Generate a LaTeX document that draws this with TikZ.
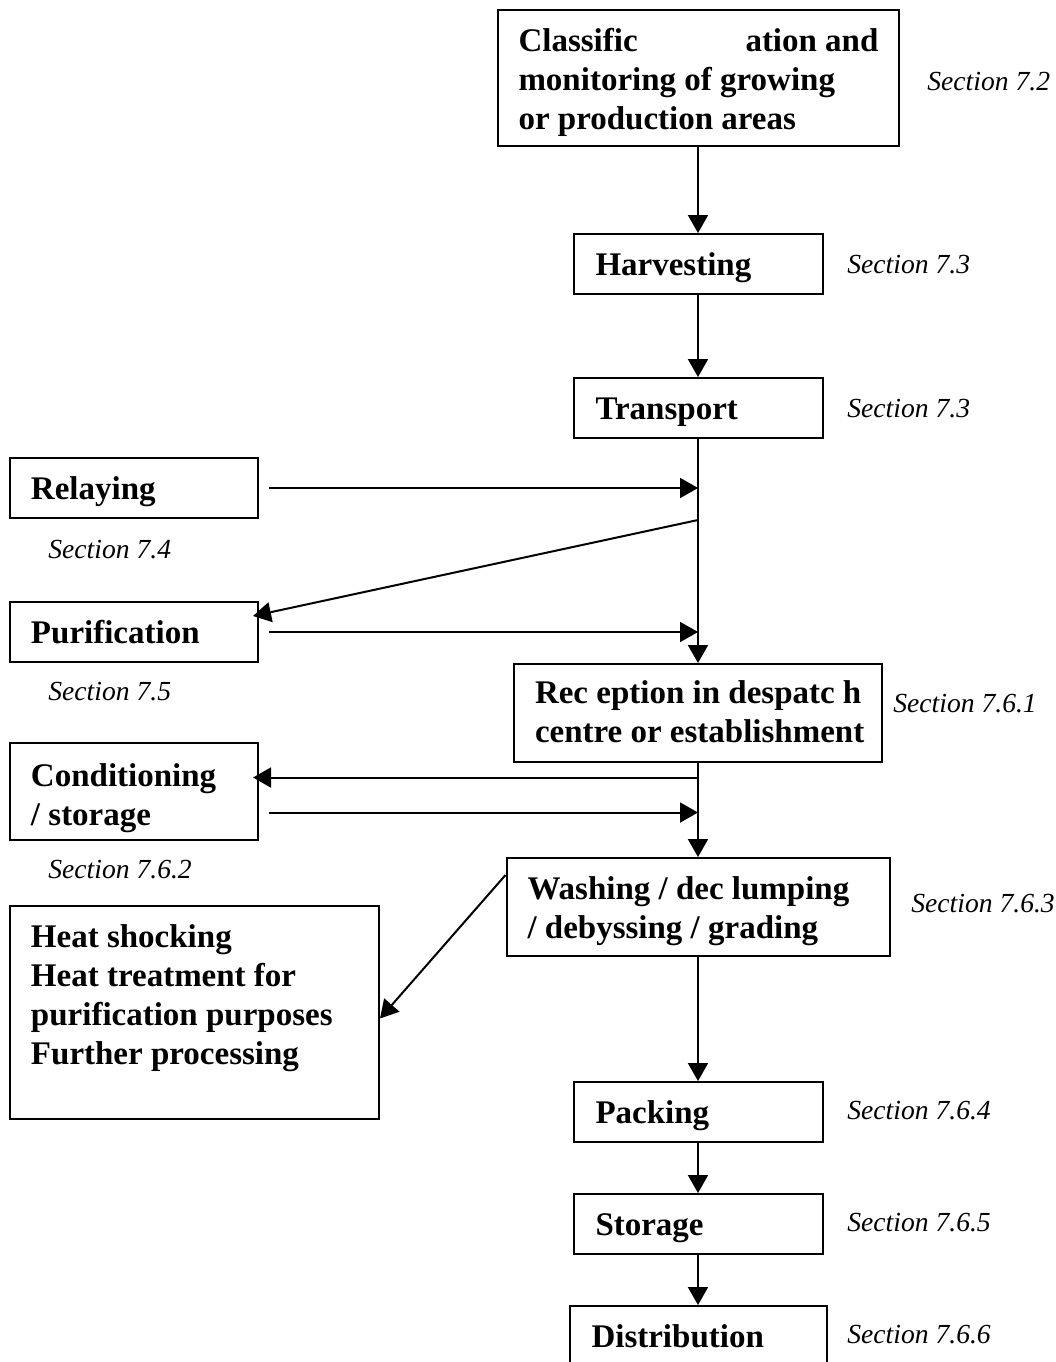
\documentclass[tikz,border=0pt]{standalone}
\usepackage{fontspec}
\setmainfont{Liberation Serif}
\usetikzlibrary{arrows.meta}
\newcommand\boxfont{\bfseries\fontsize{16.5pt}{19.5pt}\selectfont}
\newcommand\secfont{\itshape\fontsize{13.8pt}{16pt}\selectfont}

\begin{document}
\begin{tikzpicture}[x=0.5pt,y=-0.5pt,
  box/.style={draw, rectangle, line width=1pt, anchor=north, inner ysep=0pt,
              align=flush left, font=\boxfont, text height=20.5pt},
  slim/.style={text width=102.5pt, inner xsep=11pt, text depth=9.5pt},
  arr/.style={line width=1pt, -{Triangle[length=9pt,width=10pt]}},
  sec/.style={anchor=base west, inner sep=0pt, font=\secfont}]

\clip (0,0) rectangle (1056,1362);
\fill[white] (0,0) rectangle (1056,1362);

% process steps (positioned by their top edge)
\node[box, text width=179.5pt, inner xsep=10.5pt, text depth=47.5pt] (class) at (698,9)
  {\mbox{\makebox[113.5pt][l]{Classific}ation and}\\ monitoring of growing\\ or production areas};
\node[box, slim] (harv)  at (698,233) {Harvesting};
\node[box, slim] (trans) at (698,377) {Transport};
\node[box, slim, text width=103pt, inner xsep=10.5pt] (relay) at (134,457) {Relaying};
\node[box, slim, text width=103pt, inner xsep=10.5pt] (purif) at (134,601) {Purification};
\node[box, text width=163pt, inner xsep=10.5pt, text height=19.5pt, text depth=29.5pt] (recep) at (698,663)
  {\mbox{Rec eption in despatc h}\\ \mbox{centre or establishment}};
\node[box, text width=103pt, inner xsep=10.5pt, text height=21.5pt, text depth=27pt] (cond) at (134,742)
  {Conditioning\\ / storage};
\node[box, text width=170.5pt, inner xsep=10.5pt, text depth=28.5pt] (wash) at (698,857)
  {\mbox{Washing / dec lumping}\\ \mbox{/ debyssing / grading}};
\node[box, text width=163.5pt, inner xsep=10.5pt, text depth=86pt] (heat) at (194.5,905)
  {Heat shocking\\ Heat treatment for\\ \mbox{purification purposes}\\ Further processing};
\node[box, slim] (pack) at (698,1081) {Packing};
\node[box, slim] (stor) at (698,1193) {Storage};
\node[box, slim, text width=106.5pt, text depth=12pt] (dist) at (698,1305) {Distribution};

% section references (baselines)
\node[sec] (s72)  at (927,90)   {Section 7.2};
\node[sec] (s73a) at (847,273)  {Section 7.3};
\node[sec] (s73b) at (847,417)  {Section 7.3};
\node[sec] (s74)  at (48,558)   {Section 7.4};
\node[sec] (s75)  at (48,700)   {Section 7.5};
\node[sec] (s761) at (893,712)  {Section 7.6.1};
\node[sec] (s762) at (48,878)   {Section 7.6.2};
\node[sec] (s763) at (911,912)  {Section 7.6.3};
\node[sec] (s764) at (847,1119) {Section 7.6.4};
\node[sec] (s765) at (847,1231) {Section 7.6.5};
\node[sec] (s766) at (847,1343) {Section 7.6.6};

% junction points on the main line
\coordinate (relayOut) at ([xshift=5pt]relay.east);
\coordinate (purifOut) at ([xshift=5pt]purif.east);
\coordinate (purifIn)  at ([shift={(-6,-16)}]purif.east);
\coordinate (split)    at (698,520);
\coordinate (condIn)   at ([shift={(-6,-14)}]cond.east);
\coordinate (condOut)  at ([shift={(10,21)}]cond.east);
\coordinate (washOut)  at ([yshift=-9pt]wash.north west);
\coordinate (heatIn)   at ([yshift=-3pt]heat.east);

% connectors
\draw[arr] (class.south) -- (harv.north);
\draw[arr] (harv.south) -- (trans.north);
\draw[arr] (trans.south) -- (recep.north);
\draw[arr] (relayOut) -- (relayOut -| recep.north);
\draw[arr] (split) -- (purifIn);
\draw[arr] (purifOut) -- (purifOut -| recep.north);
\draw[arr] (recep.south) -- (wash.north);
\draw[arr] (condIn -| recep.south) -- (condIn);
\draw[arr] (condOut) -- (condOut -| recep.south);
\draw[arr] (washOut) -- (heatIn);
\draw[arr] (wash.south) -- (pack.north);
\draw[arr] (pack.south) -- (stor.north);
\draw[arr] (stor.south) -- (dist.north);
\end{tikzpicture}
\end{document}
